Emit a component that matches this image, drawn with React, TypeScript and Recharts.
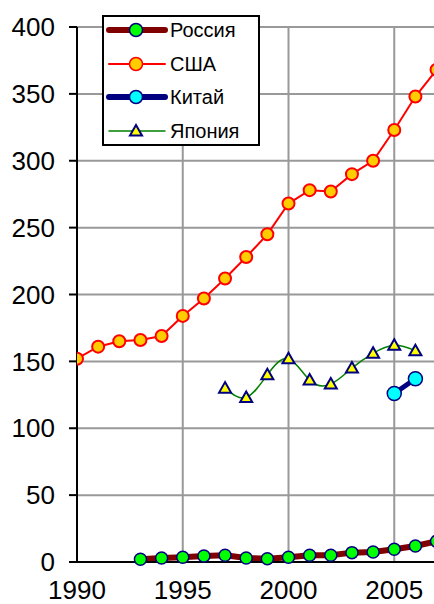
import React from "react";
import {
  CartesianGrid,
  Legend,
  Line,
  LineChart,
  XAxis,
  YAxis,
} from "recharts";

const YEARS = [
  1990, 1991, 1992, 1993, 1994, 1995, 1996, 1997, 1998, 1999, 2000, 2001, 2002,
  2003, 2004, 2005, 2006, 2007,
];
const RUSSIA = [
  null, null, null, 2, 3, 3.5, 4.5, 5, 3, 2.5, 3.5, 5, 5, 7, 7.5, 9.5, 12, 15.5,
];
const USA = [
  152, 161, 165, 166, 169, 184, 197, 212, 228, 245, 268, 278, 277, 290, 300,
  323, 348, 368,
];
const CHINA = [
  null, null, null, null, null, null, null, null, null, null, null, null, null,
  null, null, 126, 137, null,
];
const JAPAN = [
  null, null, null, null, null, null, null, 130, 123, 140, 152, 136, 133, 145,
  156, 162, 158, null,
];

const X_TICKS = [1990, 1995, 2000, 2005];
const Y_TICKS = [0, 50, 100, 150, 200, 250, 300, 350, 400];

const FONT = "'Liberation Sans', Arial, sans-serif";

const data = YEARS.map((year, i) => ({
  year,
  russia: RUSSIA[i],
  usa: USA[i],
  china: CHINA[i],
  japan: JAPAN[i],
}));

function Triangle({ cx, cy }: { cx: number; cy: number }) {
  return (
    <polygon
      points={`${cx},${cy - 6} ${cx - 6},${cy + 4.5} ${cx + 6},${cy + 4.5}`}
      fill="#ffff00"
      stroke="#000080"
      strokeWidth={2}
    />
  );
}

function LegendBox() {
  const rows = [
    { label: "Россия", line: "#800000", width: 6, kind: "circle", fill: "#00ff00", edge: "#000080" },
    { label: "США", line: "#ff0000", width: 2, kind: "circle", fill: "#ffcc00", edge: "#ff0000" },
    { label: "Китай", line: "#000080", width: 6, kind: "circle", fill: "#00ffff", edge: "#000080" },
    { label: "Япония", line: "#008000", width: 1.5, kind: "triangle", fill: "#ffff00", edge: "#000080" },
  ];
  const ys = [15, 49, 82, 116];
  return (
    <svg width={158} height={131} style={{ display: "block" }}>
      <rect x={1} y={1} width={156} height={129} fill="#fff" stroke="#000" strokeWidth={2} />
      {rows.map((r, i) => (
        <g key={r.label}>
          <line x1={7} x2={63} y1={ys[i]} y2={ys[i]} stroke={r.line} strokeWidth={r.width} strokeLinecap="round" />
          {r.kind === "circle" ? (
            <circle cx={34} cy={ys[i]} r={6.5} fill={r.fill} stroke={r.edge} strokeWidth={1.5} />
          ) : (
            <Triangle cx={34} cy={ys[i]} />
          )}
          <text x={68} y={ys[i]} dy="0.35em" fontSize={20} fontFamily={FONT} fill="#000">
            {r.label}
          </text>
        </g>
      ))}
    </svg>
  );
}

export default function App() {
  return (
    <div
      style={{
        position: "fixed",
        left: 0,
        top: 0,
        width: 434,
        height: 604,
        overflow: "hidden",
        background: "#fff",
        fontFamily: FONT,
      }}
    >
      <LineChart
        width={500}
        height={604}
        data={data}
        margin={{ top: 27, right: 0, bottom: 0, left: 0 }}
      >
        <CartesianGrid stroke="#999999" strokeWidth={2} />
        <XAxis
          dataKey="year"
          type="number"
          domain={[1990, 2010]}
          ticks={X_TICKS}
          allowDataOverflow
          height={42}
          tickLine={false}
          tickSize={8}
          tickMargin={11}
          axisLine={{ stroke: "#000", strokeWidth: 2 }}
          tick={{ fontSize: 26, fill: "#000", fontFamily: FONT }}
        />
        <YAxis
          type="number"
          domain={[0, 400]}
          ticks={Y_TICKS}
          width={77}
          tickSize={8}
          tickMargin={14}
          tickLine={{ stroke: "#000", strokeWidth: 2 }}
          axisLine={{ stroke: "#000", strokeWidth: 2 }}
          tick={{ fontSize: 26, fill: "#000", fontFamily: FONT }}
        />
        <Legend
          layout="vertical"
          align="center"
          verticalAlign="middle"
          content={() => <LegendBox />}
          wrapperStyle={{ left: 102, top: 15, width: 158, height: 131 }}
        />
        <Line
          dataKey="japan"
          name="Япония"
          type="natural"
          stroke="#008000"
          strokeWidth={1.5}
          isAnimationActive={false}
          dot={(p: any) =>
            p.cy == null || p.value == null ? (
              <g key={p.index} />
            ) : (
              <g key={p.index}>
                <Triangle cx={p.cx} cy={p.cy} />
              </g>
            )
          }
        />
        <Line
          dataKey="china"
          name="Китай"
          type="linear"
          stroke="#000080"
          strokeWidth={5}
          isAnimationActive={false}
          dot={{ r: 7, fill: "#00ffff", stroke: "#000080", strokeWidth: 1.5 }}
        />
        <Line
          dataKey="usa"
          name="США"
          type="linear"
          stroke="#ff0000"
          strokeWidth={2}
          isAnimationActive={false}
          dot={{ r: 6, fill: "#ffcc00", stroke: "#ff0000", strokeWidth: 2 }}
        />
        <Line
          dataKey="russia"
          name="Россия"
          type="linear"
          stroke="#800000"
          strokeWidth={6}
          isAnimationActive={false}
          dot={{ r: 6, fill: "#00ff00", stroke: "#000080", strokeWidth: 1.5 }}
        />
      </LineChart>
    </div>
  );
}
